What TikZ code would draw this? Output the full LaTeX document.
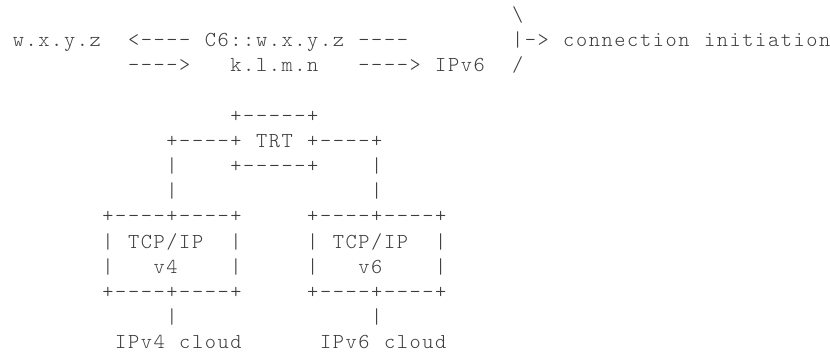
\documentclass[tikz,border=0pt]{standalone}
\usepackage{fontspec}
\newfontfamily\asc{lmmonolt10-regular.otf}
\definecolor{ink}{HTML}{3C3C3C}
\newlength\cw
\setlength\cw{9.6pt}
\ExplSyntaxOn
\NewDocumentCommand\mono{m}{ \tl_map_inline:nn {#1} { \makebox[\cw][c]{##1} } }
\ExplSyntaxOff
\begin{document}
\begin{tikzpicture}[x=9.6pt,y=-18.9pt,
  t/.style={anchor=base west,inner sep=0pt,outer sep=0pt,text=ink,
            font=\asc\fontsize{16pt}{19pt}\selectfont}]
\useasboundingbox (-0.9375,-0.845) rectangle (63.906,13.2);
% row 0
\node[t] (bs) at (39,0) {\mono{\textbackslash}};
% row 1
\node[t] (src)  at (0,1)  {\mono{w.x.y.z}};
\node[t] (mid1) at (9,1)  {\mono{<----~C6::w.x.y.z~----}};
\node[t] (conn) at (39,1) {\mono{|->~connection~initiation}};
% row 2
\node[t] (arr2) at (9,2)  {\mono{---->}};
\node[t] (klmn) at (17,2) {\mono{k.l.m.n}};
\node[t] (v6)   at (27,2) {\mono{---->~IPv6}};
\node[t] (sl)   at (39,2) {\mono{/}};
% TRT
\node[t] (trtA) at (17,4) {\mono{+-----+}};
\node[t] (trtB) at (12,5) {\mono{+----+~TRT~+----+}};
\node[t] (l6a)  at (12,6) {\mono{|}};
\node[t] (trtC) at (17,6) {\mono{+-----+}};
\node[t] (l6b)  at (28,6) {\mono{|}};
\node[t] (l7a)  at (12,7) {\mono{|}};
\node[t] (l7b)  at (28,7) {\mono{|}};
% boxes
\node[t] (b1t)  at (7,8)  {\mono{+----+----+}};
\node[t] (b2t)  at (23,8) {\mono{+----+----+}};
\node[t] (b1a)  at (7,9)  {\mono{|~TCP/IP}};
\node[t] (b1ar) at (17,9) {\mono{|}};
\node[t] (b2a)  at (23,9) {\mono{|~TCP/IP}};
\node[t] (b2ar) at (33,9) {\mono{|}};
\node[t] (b1bl) at (7,10) {\mono{|}};
\node[t] (b1b)  at (11,10) {\mono{v4}};
\node[t] (b1br) at (17,10) {\mono{|}};
\node[t] (b2bl) at (23,10) {\mono{|}};
\node[t] (b2b)  at (27,10) {\mono{v6}};
\node[t] (b2br) at (33,10) {\mono{|}};
\node[t] (b1u)  at (7,11)  {\mono{+----+----+}};
\node[t] (b2u)  at (23,11) {\mono{+----+----+}};
\node[t] (l12a) at (12,12) {\mono{|}};
\node[t] (l12b) at (28,12) {\mono{|}};
\node[t] (c4)   at (8,13)  {\mono{IPv4~cloud}};
\node[t] (c6)   at (24,13) {\mono{IPv6~cloud}};
\end{tikzpicture}
\end{document}
